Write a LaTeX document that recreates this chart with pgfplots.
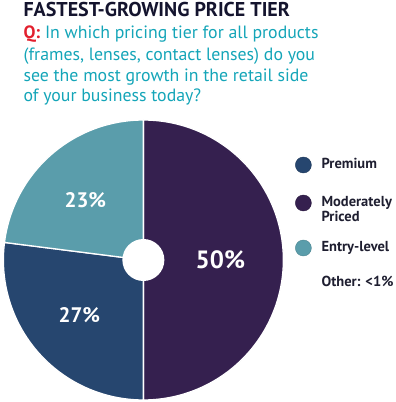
\documentclass[border=0pt]{standalone}
\usepackage{pgfplots}
\pgfplotsset{compat=1.18}
\usepackage{fontspec}
\setmainfont{PT Sans}
\definecolor{premium}{HTML}{26466F}
\definecolor{moder}{HTML}{35204F}
\definecolor{entry}{HTML}{5A9DAB}
\definecolor{titlec}{HTML}{14142E}
\definecolor{qteal}{HTML}{14A5B8}
\definecolor{qred}{HTML}{E2202E}
\definecolor{legtext}{HTML}{1E1E30}
% shares (percent)
\def\valModerate{50}
\def\valPremium{27}
\def\valEntry{23}
\begin{document}
\begin{tikzpicture}
\begin{axis}[x=1pt, y=1pt, xmin=0, xmax=394, ymin=0, ymax=402,
  scale only axis, hide axis, clip=false, anchor=origin, at={(0,0)}]
% pie angles from the shares
\pgfmathsetmacro\aA{90}
\pgfmathsetmacro\aB{90-3.6*\valModerate}
\pgfmathsetmacro\aC{\aB-3.6*\valPremium}
\pgfmathsetmacro\aD{\aC-3.6*\valEntry}
\filldraw[fill=moder, draw=white, line width=1.3pt] (axis cs:142,142) -- ++(\aA:140pt) arc[start angle=\aA, end angle=\aB, radius=140pt] -- cycle;
\filldraw[fill=premium, draw=white, line width=1.3pt] (axis cs:142,142) -- ++(\aB:140pt) arc[start angle=\aB, end angle=\aC, radius=140pt] -- cycle;
\filldraw[fill=entry, draw=white, line width=1.3pt] (axis cs:142,142) -- ++(\aC:140pt) arc[start angle=\aC, end angle=\aD, radius=140pt] -- cycle;
\fill[white] (axis cs:142,142) circle[radius=21pt];
\node[text=white, font=\bfseries\fontsize{25}{28}\selectfont] at (axis cs:219,142) {50\%};
\node[text=white, font=\bfseries\fontsize{21}{24}\selectfont] at (axis cs:84,202) {23\%};
\node[text=white, font=\bfseries\fontsize{21}{24}\selectfont] at (axis cs:78,87) {27\%};
% legend dots
\addplot[only marks, mark=*, mark size=8pt, mark options={fill=premium, draw=premium!80!black}] coordinates {(302,237)};
\addplot[only marks, mark=*, mark size=8pt, mark options={fill=moder, draw=moder!80!black}] coordinates {(302,199)};
\addplot[only marks, mark=*, mark size=8pt, mark options={fill=entry, draw=entry!85!black}] coordinates {(302,154)};
\node[anchor=base west, inner sep=0pt, text=legtext, font=\bfseries\fontsize{14.5}{16}\selectfont] at (axis cs:320,233) {Premium};
\node[anchor=base west, inner sep=0pt, text=legtext, font=\bfseries\fontsize{14.5}{16}\selectfont] at (axis cs:320,195) {Moderately};
\node[anchor=base west, inner sep=0pt, text=legtext, font=\bfseries\fontsize{14.5}{16}\selectfont] at (axis cs:320,180) {Priced};
\node[anchor=base west, inner sep=0pt, text=legtext, font=\bfseries\fontsize{14.5}{16}\selectfont] at (axis cs:320,150) {Entry-level};
\node[anchor=base west, inner sep=0pt, text=legtext, font=\bfseries\fontsize{14.5}{16}\selectfont] at (axis cs:320,115) {Other: <1\%};
% title and question
\node[anchor=base west, inner sep=0pt, text=titlec, font=\bfseries\fontsize{20}{22}\selectfont] at (axis cs:22,385) {FASTEST-GROWING PRICE TIER};
\node[anchor=base west, inner sep=0pt, text=qteal, font=\fontsize{17.8}{20}\selectfont] at (axis cs:22,363) {\textcolor{qred}{\bfseries Q:} In which pricing tier for all products};
\node[anchor=base west, inner sep=0pt, text=qteal, font=\fontsize{17.8}{20}\selectfont] at (axis cs:22,341) {(frames, lenses, contact lenses) do you};
\node[anchor=base west, inner sep=0pt, text=qteal, font=\fontsize{17.8}{20}\selectfont] at (axis cs:22,320) {see the most growth in the retail side};
\node[anchor=base west, inner sep=0pt, text=qteal, font=\fontsize{17.8}{20}\selectfont] at (axis cs:22,300) {of your business today?};
\end{axis}
\path[use as bounding box] (0,0) rectangle (394pt,402pt);
\end{tikzpicture}
\end{document}
